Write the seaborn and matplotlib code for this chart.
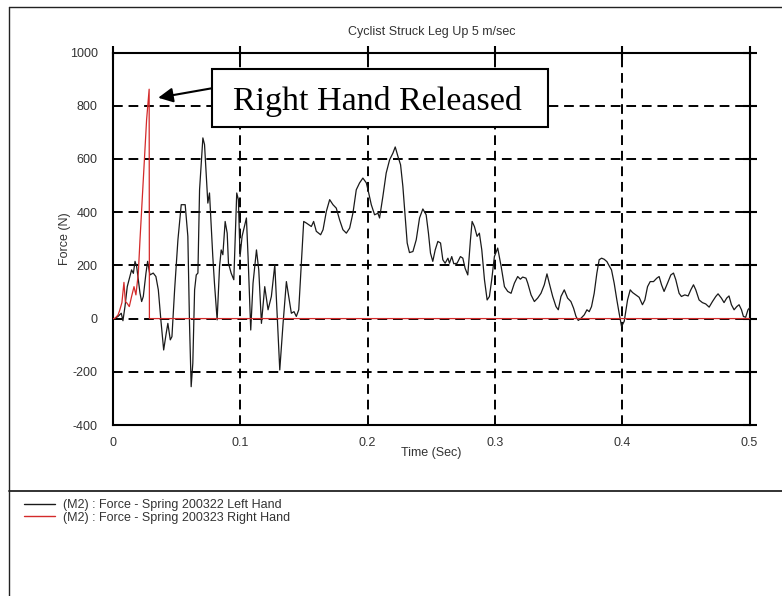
import matplotlib
matplotlib.use("Agg")
import matplotlib.pyplot as plt
from matplotlib.lines import Line2D
from matplotlib.patches import Rectangle
import seaborn as sns
import pandas as pd

# Left hand spring force (N) over time (s)
left_time = [
    0.0, 0.0013, 0.0039, 0.0065, 0.0078, 0.0094, 0.0112, 0.0133, 0.0146, 0.0160,
    0.0173, 0.0186, 0.0199, 0.0212, 0.0225, 0.0238, 0.0259, 0.0272, 0.0290, 0.0316,
    0.0337, 0.0356, 0.0376, 0.0398, 0.0418, 0.0431, 0.0450, 0.0463, 0.0484, 0.0510,
    0.0536, 0.0567, 0.0588, 0.0601, 0.0614, 0.0627, 0.0641, 0.0654, 0.0667, 0.0680,
    0.0706, 0.0719, 0.0745, 0.0758, 0.0784, 0.0797, 0.0818, 0.0837, 0.0850, 0.0863,
    0.0881, 0.0897, 0.0907, 0.0928, 0.0949, 0.0959, 0.0972, 0.0985, 0.0998, 0.1014,
    0.1048, 0.1061, 0.1082, 0.1100, 0.1127, 0.1145, 0.1166, 0.1192, 0.1218, 0.1244,
    0.1271, 0.1310, 0.1336, 0.1362, 0.1380, 0.1401, 0.1422, 0.1440, 0.1459, 0.1480,
    0.1498, 0.1519, 0.1537, 0.1558, 0.1576, 0.1597, 0.1631, 0.1650, 0.1676, 0.1702,
    0.1728, 0.1754, 0.1780, 0.1806, 0.1833, 0.1859, 0.1885, 0.1911, 0.1937, 0.1963,
    0.1990, 0.2003, 0.2029, 0.2055, 0.2081, 0.2094, 0.2120, 0.2146, 0.2173, 0.2199,
    0.2217, 0.2238, 0.2259, 0.2277, 0.2295, 0.2311, 0.2329, 0.2356, 0.2382, 0.2408,
    0.2434, 0.2460, 0.2478, 0.2494, 0.2512, 0.2531, 0.2552, 0.2573, 0.2591, 0.2609,
    0.2631, 0.2643, 0.2661, 0.2677, 0.2703, 0.2729, 0.2748, 0.2766, 0.2787, 0.2808,
    0.2821, 0.2839, 0.2860, 0.2878, 0.2897, 0.2918, 0.2939, 0.2957, 0.2975, 0.2996,
    0.3022, 0.3049, 0.3075, 0.3101, 0.3127, 0.3153, 0.3179, 0.3200, 0.3218, 0.3244,
    0.3258, 0.3284, 0.3310, 0.3336, 0.3362, 0.3388, 0.3409, 0.3427, 0.3454, 0.3480,
    0.3498, 0.3519, 0.3545, 0.3571, 0.3597, 0.3618, 0.3637, 0.3655, 0.3676, 0.3702,
    0.3723, 0.3741, 0.3759, 0.3780, 0.3801, 0.3819, 0.3838, 0.3858, 0.3880, 0.3898,
    0.3916, 0.3937, 0.3958, 0.3976, 0.3995, 0.4016, 0.4042, 0.4063, 0.4081, 0.4107,
    0.4133, 0.4159, 0.4178, 0.4199, 0.4220, 0.4246, 0.4272, 0.4290, 0.4309, 0.4329,
    0.4356, 0.4382, 0.4403, 0.4421, 0.4447, 0.4465, 0.4492, 0.4518, 0.4539, 0.4560,
    0.4578, 0.4604, 0.4630, 0.4656, 0.4683, 0.4709, 0.4735, 0.4753, 0.4779, 0.4800,
    0.4821, 0.4839, 0.4858, 0.4879, 0.4900, 0.4918, 0.4937, 0.4952, 0.4970, 0.4988,
    0.5000,
]
left_force = [
    0, 0, 8, 20, -8, 45, 120, 158, 183, 170,
    215, 195, 146, 96, 64, 83, 171, 215, 164, 171,
    158, 108, -5, -118, -55, -18, -80, -68, 108, 296,
    428, 428, 309, -18, -256, -168, 108, 164, 171, 484,
    679, 654, 434, 472, 233, 133, -5, 196, 258, 240,
    365, 321, 208, 171, 146, 284, 472, 447, 233, 309,
    378, 233, -43, 133, 258, 183, -18, 120, 33, 83,
    202, -193, -18, 139, 83, 20, 26, 8, 33, 208,
    365, 359, 353, 346, 365, 328, 315, 334, 403, 447,
    428, 415, 371, 334, 321, 340, 397, 484, 510, 528,
    510, 484, 428, 390, 396, 378, 459, 547, 597, 622,
    645, 610, 578, 497, 384, 284, 248, 252, 296, 378,
    412, 390, 321, 246, 215, 258, 290, 284, 221, 208,
    227, 208, 233, 206, 208, 233, 227, 189, 164, 296,
    365, 346, 309, 321, 258, 146, 70, 83, 146, 233,
    265, 196, 120, 102, 95, 133, 158, 148, 156, 152,
    133, 89, 64, 77, 95, 127, 168, 133, 83, 45,
    33, 83, 108, 77, 64, 39, 8, -7, 1, 14,
    33, 26, 45, 95, 171, 221, 227, 223, 214, 198,
    183, 133, 70, 20, -30, -10, 70, 108, 98, 89,
    80, 52, 70, 120, 139, 139, 152, 158, 127, 102,
    133, 164, 171, 146, 95, 83, 89, 85, 108, 127,
    108, 70, 60, 55, 43, 64, 83, 93, 77, 60,
    77, 85, 52, 33, 45, 52, 33, 8, 5, 33,
    40,
]

# Right hand spring force: builds up, then the hand releases
right_time = [
    0.0, 0.0013, 0.0039, 0.0052, 0.0070, 0.0086, 0.0097, 0.0110, 0.0128, 0.0146,
    0.0165, 0.0180, 0.0199, 0.0212, 0.0238, 0.0264, 0.0284, 0.0286, 0.5000,
]
right_force = [
    0, 0, 13, 30, 60, 136, 64, 58, 45, 83,
    120, 89, 171, 296, 522, 748, 862, 0, 0,
]

x_ticks = [0, 0.1, 0.2, 0.3, 0.4, 0.5]
x_tick_labels = ["0", "0.1", "0.2", "0.3", "0.4", "0.5"]
y_ticks = [-400, -200, 0, 200, 400, 600, 800, 1000]
series_names = [
    "(M2) : Force - Spring 200322 Left Hand",
    "(M2) : Force - Spring 200323 Right Hand",
]
title_text = "Cyclist Struck Leg Up 5 m/sec"
callout_text = "Right Hand Released"

sns.set_theme(style="white")
plt.rcParams["font.family"] = ["Liberation Sans", "DejaVu Sans"]
plt.rcParams["axes.unicode_minus"] = False

W, H = 782, 596
fig = plt.figure(figsize=(W / 100, H / 100), dpi=100)
ax = fig.add_axes([113 / W, 1 - 425 / H, 636.5 / W, 372.5 / H])

left_df = pd.DataFrame({"Time": left_time, "Force": left_force})
right_df = pd.DataFrame({"Time": right_time, "Force": right_force})

sns.lineplot(data=left_df, x="Time", y="Force", ax=ax, color="#1a1a1a",
             linewidth=0.9, estimator=None, sort=False, label=series_names[0],
             zorder=3)
sns.lineplot(data=right_df, x="Time", y="Force", ax=ax, color="#d42a2a",
             linewidth=0.9, estimator=None, sort=False, label=series_names[1],
             zorder=3)

ax.set_xlim(0, 0.5)
ax.set_ylim(-400, 1000)
ax.set_xticks(x_ticks)
ax.set_xticklabels(x_tick_labels)
ax.set_yticks(y_ticks)
ax.grid(True, color="black", linestyle=(0, (5, 3)), linewidth=1.4)

for side in ["left", "right", "top", "bottom"]:
    ax.spines[side].set_visible(True)
    ax.spines[side].set_color("black")
    ax.spines[side].set_linewidth(1.5)

ax.tick_params(axis="both", which="major", direction="inout", length=10,
               width=1.5, color="black", top=True, right=True,
               labelsize=9, labelcolor="#333333")
ax.tick_params(axis="x", pad=4)
ax.tick_params(axis="y", pad=6)

ax.set_xlabel("Time (Sec)", fontsize=9, color="#333333")
ax.set_ylabel("Force (N)", fontsize=9, color="#333333")
ax.xaxis.set_label_coords(0.4995, -0.058)
ax.yaxis.set_label_coords(-0.066, 0.5)

fig.text(431.5 / W, 1 - 32 / H, title_text, ha="center", va="center",
         fontsize=9, color="#333333")

# Callout box with arrow pointing to the end of the right-hand force spike
ax.add_patch(Rectangle((0.1555, 0.80), 0.528, 0.1557, transform=ax.transAxes,
                       facecolor="white", edgecolor="black", linewidth=1.5,
                       zorder=5))
ax.text(0.1885, 0.8456, callout_text, transform=ax.transAxes, ha="left",
        va="baseline", fontsize=24.5, family=["Liberation Serif", "DejaVu Serif"],
        color="black", zorder=6)
ax.annotate("", xy=(0.0355, 830), xycoords="data",
            xytext=(0.1551, 0.9039), textcoords="axes fraction",
            arrowprops=dict(arrowstyle="-|>", color="black", lw=1.5,
                            mutation_scale=22, shrinkA=0, shrinkB=0),
            zorder=6)

# Legend sits below the divider line
leg = ax.legend(loc="upper left", bbox_to_anchor=(24 / W, 1 - 499 / H),
                bbox_transform=fig.transFigure, frameon=False, fontsize=9,
                handlelength=2.45, handletextpad=0.65, labelspacing=0.05,
                borderpad=0, borderaxespad=0)
for txt in leg.get_texts():
    txt.set_color("#333333")
for line in leg.get_lines():
    line.set_linewidth(1.0)

# Page frame and divider
frame_kw = dict(transform=fig.transFigure, color="#222222", linewidth=1.0)
fig.add_artist(Line2D([9 / W, 9 / W], [0, 1 - 7 / H], **frame_kw))
fig.add_artist(Line2D([9 / W, 1], [1 - 7 / H, 1 - 7 / H], **frame_kw))
fig.add_artist(Line2D([9 / W, 1], [1 - 491 / H, 1 - 491 / H],
                      transform=fig.transFigure, color="#222222", linewidth=1.3))

fig.savefig("out.png", dpi=100, facecolor="white")
